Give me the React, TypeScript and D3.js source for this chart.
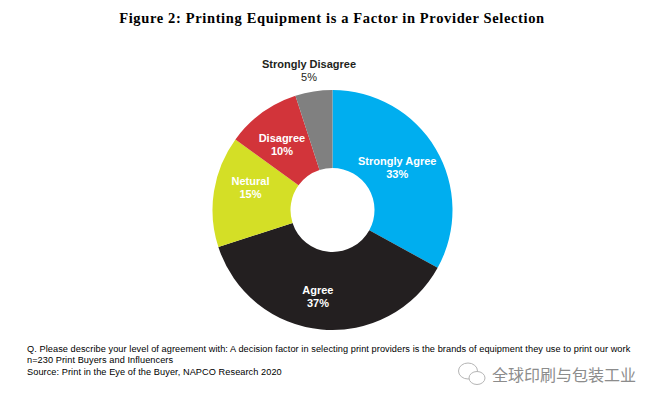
import React from "react";
import * as d3 from "d3";

const categories = ["Strongly Agree", "Agree", "Netural", "Disagree", "Strongly Disagree"];
const values = [33, 37, 15, 10, 5];
const colors = ["#00AEEF", "#231F20", "#D4DF26", "#D2343A", "#808080"];
const title = "Figure 2: Printing Equipment is a Factor in Provider Selection";
const notes = [
  "Q. Please describe your level of agreement with: A decision factor in selecting print providers is the brands of equipment they use to print our work",
  "n=230 Print Buyers and Influencers",
  "Source: Print in the Eye of the Buyer, NAPCO Research 2020",
];
const watermark = "全球印刷与包装工业";
// label nudges relative to the arc centroid
const labelNudge = [[-5, -4], [-7, 3], [-2, -12], [-3, -2], [0, 0]];

export default function App() {
  const cx = 332.5, cy = 210, R = 120, r = 42;
  const pie = d3.pie<number>().sort(null)(values);
  const arc = d3.arc<d3.PieArcDatum<number>>().innerRadius(r).outerRadius(R);
  const labelArc = d3.arc<d3.PieArcDatum<number>>().innerRadius(81).outerRadius(81);
  return (
    <svg width={656} height={404} style={{ position: "absolute", left: 0, top: 0, background: "#fff" }}>
      <text x={332} y={23} textAnchor="middle" fontFamily="'Liberation Serif'" fontWeight="bold" fontSize={14.5} letterSpacing={0.64} fill="#000">{title}</text>
      <g transform={`translate(${cx},${cy})`}>
        {pie.map((d, i) => <path key={i} d={arc(d)!} fill={colors[i]} />)}
        {pie.map((d, i) => {
          const [x, y] = labelArc.centroid(d);
          const outside = i === 4;
          const lx = outside ? -23.5 : x + labelNudge[i][0];
          const ly = outside ? -142 : y + labelNudge[i][1];
          const fill = outside ? "#231F20" : "#fff";
          return (
            <text key={i} x={lx} y={ly} textAnchor="middle" fontFamily="'Liberation Sans'" fontWeight="bold" fontSize={11} fill={fill}>
              <tspan x={lx} dy={0}>{categories[i]}</tspan>
              <tspan x={lx} dy={13} fontWeight={outside ? "normal" : "bold"}>{values[i]}%</tspan>
            </text>
          );
        })}
      </g>
      {notes.map((n, i) => (
        <text key={i} x={27} y={351.5 + i * 11.7} fontFamily="'Liberation Sans'" fontSize={9.2} letterSpacing={0.07} fill="#000">{n}</text>
      ))}
      <g fill="#fff" stroke="#b5b5b5" strokeWidth={1}>
        <ellipse cx={468} cy={371} rx={9.5} ry={8} />
        <ellipse cx={477} cy={378} rx={8} ry={6.5} />
      </g>
      <text x={492} y={381} fontFamily="'Noto Sans CJK SC'" fontSize={16} fill="#8c8c8c">{watermark}</text>
    </svg>
  );
}
